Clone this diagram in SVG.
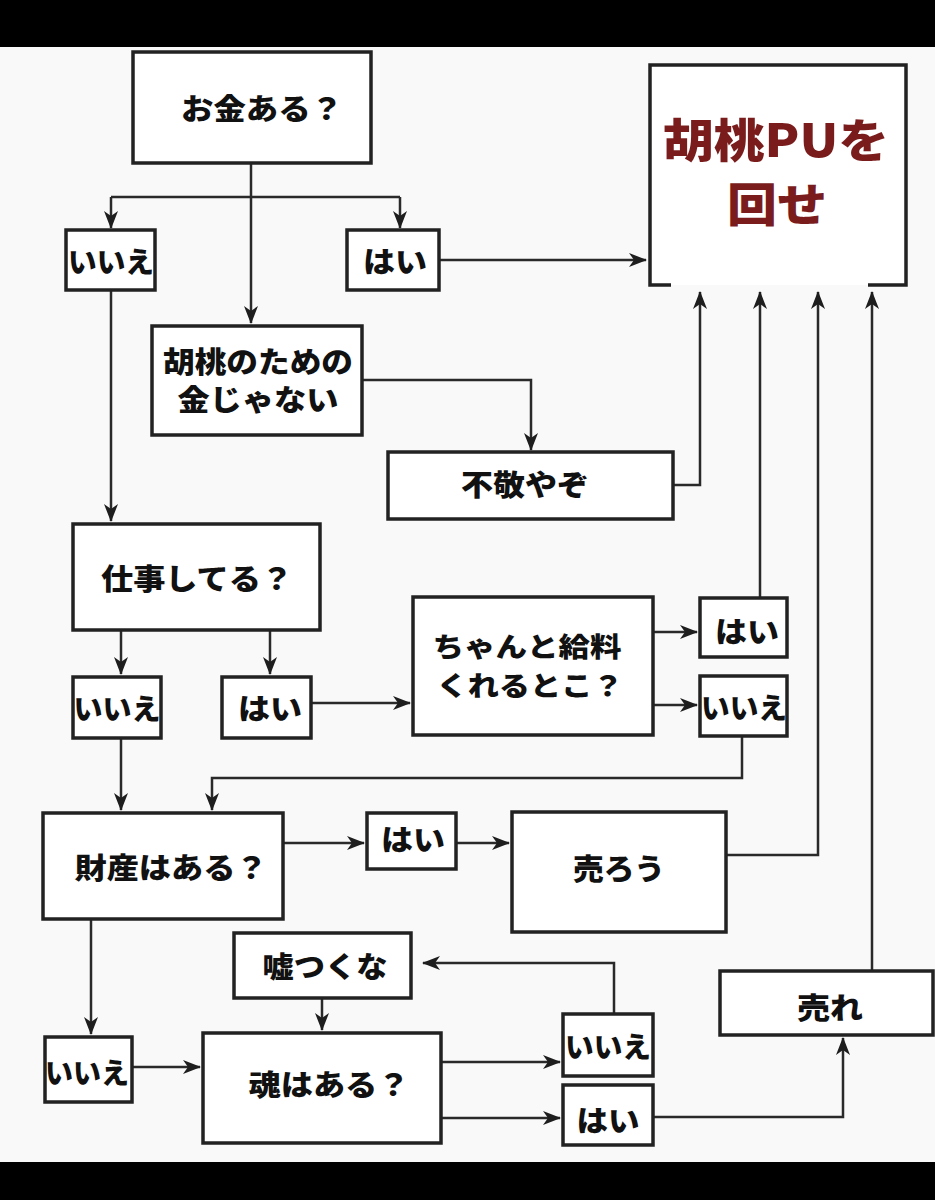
<svg xmlns="http://www.w3.org/2000/svg" width="935" height="1200" viewBox="0 0 935 1200">
<defs>
<marker id="arr" viewBox="0 0 18 14" markerWidth="18" markerHeight="14" refX="17" refY="7" orient="auto" markerUnits="userSpaceOnUse">
<path d="M0,0 L18,7 L0,14 L5,7 Z" fill="#1e1e1e"/>
</marker>
</defs>
<style>
.box{fill:#ffffff;stroke:#222;stroke-width:3.5}
.c{fill:none;stroke:#2a2a2a;stroke-width:2.5;marker-end:url(#arr)}
.l{fill:none;stroke:#2a2a2a;stroke-width:2.5}
.t{font-family:"Noto Sans CJK JP","Noto Sans",sans-serif;font-weight:900;font-size:29px;fill:#111;text-anchor:middle;dominant-baseline:central}
.s{font-size:27px}
.r{font-family:"Noto Sans CJK JP","Noto Sans",sans-serif;font-weight:900;font-size:46px;fill:#7a1c1c;text-anchor:middle;dominant-baseline:central}
</style>
<rect x="0" y="0" width="935" height="1200" fill="#f9f9f9"/>
<rect x="0" y="0" width="935" height="47" fill="#000"/>
<rect x="0" y="1162" width="935" height="38" fill="#000"/>

<g id="connectors">
<path class="c" d="M251,163 V323"/>
<path class="l" d="M111,197 H400"/>
<path class="c" d="M111,197 V228"/>
<path class="c" d="M400,197 V228"/>
<path class="c" d="M439,260 H646"/>
<path class="c" d="M362,380 H531 V450"/>
<path class="c" d="M673,485 H700 V292"/>
<path class="c" d="M111,291 V521"/>
<path class="c" d="M121,630 V674"/>
<path class="c" d="M270,630 V674"/>
<path class="c" d="M311,703 H410"/>
<path class="c" d="M653,632 H697"/>
<path class="c" d="M653,705 H697"/>
<path class="c" d="M760,598 V292"/>
<path class="c" d="M742,736 V778 H212 V810"/>
<path class="c" d="M121,738 V810"/>
<path class="c" d="M283,843 H364"/>
<path class="c" d="M456,843 H509"/>
<path class="c" d="M726,855 H818 V292"/>
<path class="c" d="M872,971 V292"/>
<path class="c" d="M91,919 V1034"/>
<path class="c" d="M132,1067 H200"/>
<path class="c" d="M322,998 V1030"/>
<path class="c" d="M441,1062 H560"/>
<path class="c" d="M441,1118 H560"/>
<path class="c" d="M614,1014 V963 H423"/>
<path class="c" d="M653,1117 H843 V1038"/>
</g>

<g id="n-okane">
<rect class="box" x="133" y="52" width="238" height="111"/>
<text class="t" x="262" y="107" textLength="162" lengthAdjust="spacingAndGlyphs">お金ある？</text>
</g>
<g id="n-goal">
<path d="M671,285 H650 V65 H906 V285 H868" fill="#ffffff" stroke="#222" stroke-width="3.5"/>
<text class="r" x="776" y="137" textLength="226" lengthAdjust="spacingAndGlyphs">胡桃PUを</text>
<text class="r" x="777" y="201" textLength="100" lengthAdjust="spacingAndGlyphs">回せ</text>
</g>
<g id="n-no1">
<rect class="box" x="66" y="230" width="89" height="60"/>
<text class="t" x="111" y="260" textLength="86" lengthAdjust="spacingAndGlyphs">いいえ</text>
</g>
<g id="n-yes1">
<rect class="box" x="347" y="230" width="92" height="60"/>
<text class="t" x="395" y="260" textLength="64" lengthAdjust="spacingAndGlyphs">はい</text>
</g>
<g id="n-kurumi">
<rect class="box" x="152" y="326" width="210" height="109"/>
<text class="t" x="258" y="360" textLength="190" lengthAdjust="spacingAndGlyphs">胡桃のための</text>
<text class="t" x="258" y="398" textLength="161" lengthAdjust="spacingAndGlyphs">金じゃない</text>
</g>
<g id="n-fukei">
<rect class="box" x="388" y="452" width="285" height="67"/>
<text class="t" x="525" y="483" textLength="128" lengthAdjust="spacingAndGlyphs">不敬やぞ</text>
</g>
<g id="n-shigoto">
<rect class="box" x="73" y="524" width="247" height="106"/>
<text class="t" x="197" y="577" textLength="192" lengthAdjust="spacingAndGlyphs">仕事してる？</text>
</g>
<g id="n-no2">
<rect class="box" x="73" y="677" width="88" height="61"/>
<text class="t" x="117" y="707" textLength="87" lengthAdjust="spacingAndGlyphs">いいえ</text>
</g>
<g id="n-yes2">
<rect class="box" x="222" y="677" width="89" height="61"/>
<text class="t" x="270" y="707" textLength="64" lengthAdjust="spacingAndGlyphs">はい</text>
</g>
<g id="n-kyuryo">
<rect class="box" x="413" y="597" width="240" height="138"/>
<text class="t s" x="527" y="645" textLength="189" lengthAdjust="spacingAndGlyphs">ちゃんと給料</text>
<text class="t s" x="530" y="684" textLength="187" lengthAdjust="spacingAndGlyphs">くれるとこ？</text>
</g>
<g id="n-yes3">
<rect class="box" x="700" y="598" width="87" height="59"/>
<text class="t" x="747" y="630" textLength="64" lengthAdjust="spacingAndGlyphs">はい</text>
</g>
<g id="n-no3">
<rect class="box" x="700" y="676" width="87" height="60"/>
<text class="t" x="744" y="706" textLength="86" lengthAdjust="spacingAndGlyphs">いいえ</text>
</g>
<g id="n-zaisan">
<rect class="box" x="43" y="813" width="240" height="106"/>
<text class="t" x="171" y="866" textLength="193" lengthAdjust="spacingAndGlyphs">財産はある？</text>
</g>
<g id="n-yes4">
<rect class="box" x="367" y="813" width="89" height="56"/>
<text class="t" x="413" y="838" textLength="64" lengthAdjust="spacingAndGlyphs">はい</text>
</g>
<g id="n-urou">
<rect class="box" x="512" y="812" width="214" height="120"/>
<text class="t" x="619" y="867" textLength="92" lengthAdjust="spacingAndGlyphs">売ろう</text>
</g>
<g id="n-uso">
<rect class="box" x="234" y="933" width="177" height="65"/>
<text class="t" x="325" y="965" textLength="125" lengthAdjust="spacingAndGlyphs">嘘つくな</text>
</g>
<g id="n-ure">
<rect class="box" x="720" y="971" width="213" height="64"/>
<text class="t" x="830" y="1006" textLength="66" lengthAdjust="spacingAndGlyphs">売れ</text>
</g>
<g id="n-no4">
<rect class="box" x="45" y="1037" width="87" height="65"/>
<text class="t" x="87" y="1071" textLength="84" lengthAdjust="spacingAndGlyphs">いいえ</text>
</g>
<g id="n-tamashii">
<rect class="box" x="203" y="1033" width="238" height="110"/>
<text class="t" x="329" y="1083" textLength="161" lengthAdjust="spacingAndGlyphs">魂はある？</text>
</g>
<g id="n-no5">
<rect class="box" x="563" y="1014" width="90" height="62"/>
<text class="t" x="608" y="1045" textLength="86" lengthAdjust="spacingAndGlyphs">いいえ</text>
</g>
<g id="n-yes5">
<rect class="box" x="563" y="1085" width="90" height="60"/>
<text class="t" x="608" y="1119" textLength="63" lengthAdjust="spacingAndGlyphs">はい</text>
</g>
</svg>
